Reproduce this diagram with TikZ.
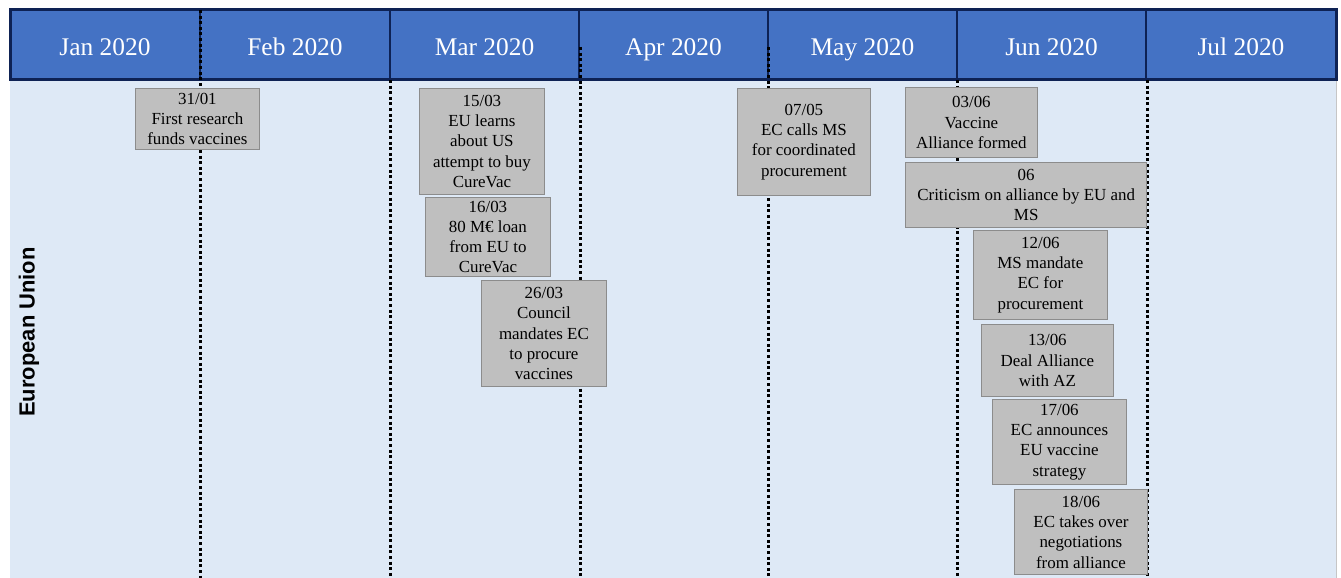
\documentclass[tikz,border=0pt]{standalone}
\usepackage{fontspec}
\setmainfont{Liberation Serif}
\newfontfamily\lsans{Liberation Sans}
\definecolor{hdrfill}{RGB}{68,114,196}
\definecolor{hdrline}{RGB}{14,34,84}
\definecolor{lanebg}{RGB}{222,233,246}
\definecolor{evfill}{RGB}{191,191,191}
\definecolor{evline}{RGB}{140,140,140}
\begin{document}
\begin{tikzpicture}[x=1bp,y=-1bp,
  month/.style={text=white,font=\fontsize{25.5}{30}\selectfont,anchor=base},
  evbox/.style={draw=evline,line width=1.3bp,fill=evfill,align=center,inner sep=0pt,
    anchor=north west,font=\fontsize{17}{20.4}\selectfont},
  vdot/.style={line width=3bp,dash pattern=on 3bp off 2.6bp,black},
  hcell/.style={draw=hdrline,line width=2.6bp,fill=hdrfill}]
\useasboundingbox (0,0) rectangle (1341,578);
% lane background
\fill[lanebg] (10,80) rectangle (1336,578);
\draw[gray!45,line width=0.6bp] (1336,80) -- (1336,578);
% header
\foreach \a/\b/\t [count=\i] in {10/200/Jan 2020,200/390/Feb 2020,390/579/Mar 2020,
    579/768/Apr 2020,768/957/May 2020,957/1146/Jun 2020,1146/1336/Jul 2020}{
  \draw[hcell] (\a,10) rectangle (\b,80);
  \node[month] (m\i) at ({(\a+\b)/2},56) {\t};
}
\draw[hdrline,line width=3bp] (10,10) rectangle (1336,80);
% dotted month separators
\draw[vdot] (200,10) -- (200,578);
\draw[vdot] (390,80) -- (390,578);
\draw[vdot] (580,47) -- (580,578);
\draw[vdot] (768,47) -- (768,578);
\draw[vdot] (957,80) -- (957,578);
\draw[vdot] (1147,80) -- (1147,578);
% lane label
\node[rotate=90,font=\lsans\bfseries\fontsize{22}{26}\selectfont] (lane) at (29,332) {European Union};
% events
\node[evbox,minimum width=124,minimum height=61] (e1) at (135,88) {31/01\\First research\\funds vaccines};
\node[evbox,minimum width=125,minimum height=106] (e2) at (419,88) {15/03\\EU learns\\about US\\attempt to buy\\CureVac};
\node[evbox,minimum width=125,minimum height=79] (e3) at (425,197) {16/03\\80 M€ loan\\from EU to\\CureVac};
\node[evbox,minimum width=125,minimum height=106] (e4) at (481,280) {26/03\\Council\\mandates EC\\to procure\\vaccines};
\node[evbox,minimum width=133,minimum height=107] (e5) at (737,88) {07/05\\EC calls MS\\for coordinated\\procurement};
\node[evbox,minimum width=132,minimum height=70] (e6) at (905,87) {03/06\\Vaccine\\Alliance formed};
\node[evbox,minimum width=242,minimum height=65] (e7) at (905,162) {06\\Criticism on alliance by EU and\\MS};
\node[evbox,minimum width=134,minimum height=89] (e8) at (973,230) {12/06\\MS mandate\\EC for\\procurement};
\node[evbox,minimum width=132,minimum height=72] (e9) at (981,324) {13/06\\Deal Alliance\\with AZ};
\node[evbox,minimum width=134,minimum height=85] (e10) at (992,399) {17/06\\EC announces\\EU vaccine\\strategy};
\node[evbox,minimum width=133,minimum height=85] (e11) at (1014,489) {18/06\\EC takes over\\negotiations\\from alliance};
\end{tikzpicture}
\end{document}
